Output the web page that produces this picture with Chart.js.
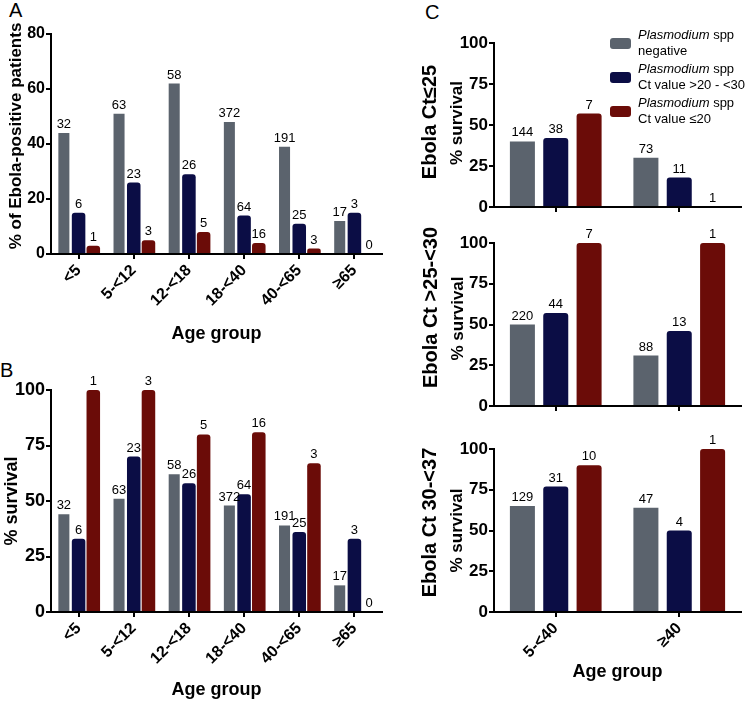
<!DOCTYPE html>
<html>
<head>
<meta charset="utf-8">
<script src="https://cdn.jsdelivr.net/npm/chart.js@4.4.1/dist/chart.umd.min.js"></script>
<style>
  body { margin: 0; background: #fff; width: 752px; height: 702px; position: relative; overflow: hidden;
         font-family: "Liberation Sans", Arial, sans-serif; color: #000; }
  .box { position: absolute; }
  .letter { position: absolute; font-size: 20px; line-height: 20px; }
  #legend { position: absolute; left: 610px; top: 27px; width: 150px; font-size: 13px; line-height: 16px; white-space: nowrap; }
  #legend .item { display: flex; align-items: center; height: 32px; margin-bottom: 2px; }
  #legend .sw { width: 21px; height: 11px; border-radius: 3px; margin-right: 7px; flex: none; }
</style>
</head>
<body>

<div class="letter" style="left:9px;top:0px">A</div>
<div class="letter" style="left:0px;top:360px">B</div>
<div class="letter" style="left:425px;top:2px">C</div>

<div class="box" style="left:0;top:0;width:392px;height:350px"><canvas id="chartA"></canvas></div>
<div class="box" style="left:0;top:345px;width:392px;height:357px"><canvas id="chartB"></canvas></div>
<div class="box" style="left:380px;top:0;width:372px;height:222px"><canvas id="chartC1"></canvas></div>
<div class="box" style="left:380px;top:222px;width:372px;height:208px"><canvas id="chartC2"></canvas></div>
<div class="box" style="left:380px;top:430px;width:372px;height:272px"><canvas id="chartC3"></canvas></div>
<div id="legend"></div>

<script>
// categorias
const ageGroups = ['<5', '5-<12', '12-<18', '18-<40', '40-<65', '≥65'];
const ageGroupsC = ['5-<40', '≥40'];
const seriesLabels = ['negative', 'Ct value >20 - <30', 'Ct value ≤20'];
const seriesColors = ['#5b636d', '#0b0d45', '#6b0c08'];

// numero de pacientes por grupo (rotulos em cima das barras)
const nNeg = [32, 63, 58, 372, 191, 17];
const nMid = [6, 23, 26, 64, 25, 3];
const nHigh = [1, 3, 5, 16, 3, 0];

// A - % dos pacientes Ebola-positivos
const pctNeg = [44, 51, 62, 48, 39, 12];
const pctMid = [15, 26, 29, 14, 11, 15];
const pctHigh = [3, 5, 8, 4, 2, 0];

// B - % sobrevivencia
const survNeg = [44, 51, 62, 48, 39, 12];
const survMid = [33, 70, 58, 53, 36, 33];
const survHigh = [100, 100, 80, 81, 67, 0];

// C - sobrevivencia por Ct do Ebola
const c1Neg = [40, 30], c1Mid = [42, 18], c1High = [57, 0];
const c1nNeg = [144, 73], c1nMid = [38, 11], c1nHigh = [7, 1];
const c2Neg = [50, 31], c2Mid = [57, 46], c2High = [100, 100];
const c2nNeg = [220, 88], c2nMid = [44, 13], c2nHigh = [7, 1];
const c3Neg = [65, 64], c3Mid = [77, 50], c3High = [90, 100];
const c3nNeg = [129, 47], c3nMid = [31, 4], c3nHigh = [10, 1];

Chart.defaults.font.family = '"Liberation Sans", Arial, sans-serif';
Chart.defaults.color = '#000';

// numeros em cima das barras
const countLabels = {
    id: 'countLabels',
    afterDatasetsDraw(chart) {
        const ctx = chart.ctx;
        ctx.save();
        ctx.font = '13px "Liberation Sans", Arial, sans-serif';
        ctx.fillStyle = '#000';
        ctx.textAlign = 'center';
        ctx.textBaseline = 'bottom';
        chart.data.datasets.forEach((ds, i) => {
            chart.getDatasetMeta(i).data.forEach((bar, j) => {
                ctx.fillText(String(ds.counts[j]), bar.x, bar.y - 2);
            });
        });
        ctx.restore();
    }
};

// titulos verticais do eixo y (tamanhos diferentes)
const sideTitles = {
    id: 'sideTitles',
    afterDraw(chart, args, opts) {
        const { ctx, chartArea } = chart;
        (opts.items || []).forEach(it => {
            ctx.save();
            ctx.translate(it.x, (chartArea.top + chartArea.bottom) / 2 + (it.dy || 0));
            ctx.rotate(-Math.PI / 2);
            ctx.font = 'bold ' + it.size + 'px "Liberation Sans", Arial, sans-serif';
            ctx.fillStyle = '#000';
            ctx.textAlign = 'center';
            ctx.textBaseline = 'middle';
            ctx.fillText(it.text, 0, 0);
            ctx.restore();
        });
    }
};

function makeChart(id, cfg) {
    const datasets = cfg.values.map((vals, i) => ({
        data: vals,
        counts: cfg.counts[i],
        backgroundColor: seriesColors[i],
        borderRadius: i === 0 ? 0 : 3,
        categoryPercentage: cfg.catPct,
        barPercentage: cfg.barPct[i]
    }));
    return new Chart(document.getElementById(id), {
        type: 'bar',
        data: { labels: cfg.labels, datasets: datasets },
        plugins: [countLabels, sideTitles],
        options: {
            responsive: true,
            maintainAspectRatio: false,
            animation: false,
            layout: { padding: cfg.padding },
            plugins: {
                legend: { display: false },
                tooltip: { enabled: false },
                sideTitles: { items: cfg.titles }
            },
            scales: {
                x: {
                    grid: { drawOnChartArea: false, offset: false, color: '#000', lineWidth: 2, tickLength: 5 },
                    border: { color: '#000', width: 2 },
                    ticks: {
                        display: cfg.showX, color: '#000', autoSkip: false,
                        maxRotation: 45, minRotation: 45, padding: 2,
                        font: { size: 16, weight: 'bold' }
                    },
                    title: {
                        display: cfg.showX, text: 'Age group', color: '#000',
                        font: { size: 18, weight: 'bold' },
                        padding: { top: 0, bottom: cfg.titlePad }
                    },
                    afterFit: s => { s.height = cfg.xHeight; }
                },
                y: {
                    min: 0,
                    max: cfg.yMax,
                    grid: { drawOnChartArea: false, color: '#000', lineWidth: 2, tickLength: 5 },
                    border: { color: '#000', width: 2 },
                    ticks: { stepSize: cfg.yStep, color: '#000', padding: 1, font: { size: cfg.tickSize, weight: 'bold' } },
                    afterFit: s => { s.width = cfg.yWidth; }
                }
            }
        }
    });
}

// Grafico A
makeChart('chartA', {
    labels: ageGroups,
    values: [pctNeg, pctMid, pctHigh],
    counts: [nNeg, nMid, nHigh],
    yMax: 80, yStep: 20, tickSize: 16,
    yWidth: 51, xHeight: 96, showX: true, titlePad: 5,
    padding: { top: 34, right: 10, left: 0, bottom: 0 },
    catPct: 0.8, barPct: [0.75, 0.92, 0.92],
    titles: [{ text: '% of Ebola-positive patients', x: 16, dy: -8, size: 17 }]
});

// Grafico B
makeChart('chartB', {
    labels: ageGroups,
    values: [survNeg, survMid, survHigh],
    counts: [nNeg, nMid, nHigh],
    yMax: 100, yStep: 25, tickSize: 18,
    yWidth: 51, xHeight: 90, showX: true, titlePad: 1,
    padding: { top: 45, right: 10, left: 0, bottom: 0 },
    catPct: 0.8, barPct: [0.75, 0.92, 0.92],
    titles: [{ text: '% survival', x: 12, dy: 0, size: 18 }]
});

// Graficos C
makeChart('chartC1', {
    labels: ageGroupsC,
    values: [c1Neg, c1Mid, c1High],
    counts: [c1nNeg, c1nMid, c1nHigh],
    yMax: 100, yStep: 25, tickSize: 17,
    yWidth: 114, xHeight: 15, showX: false, titlePad: 0,
    padding: { top: 43, right: 11, left: 0, bottom: 0 },
    catPct: 0.81, barPct: [0.75, 0.75, 0.75],
    titles: [{ text: 'Ebola Ct≤25', x: 50, dy: -3, size: 20 },
             { text: '% survival', x: 77, dy: -2, size: 17 }]
});

makeChart('chartC2', {
    labels: ageGroupsC,
    values: [c2Neg, c2Mid, c2High],
    counts: [c2nNeg, c2nMid, c2nHigh],
    yMax: 100, yStep: 25, tickSize: 17,
    yWidth: 114, xHeight: 24, showX: false, titlePad: 0,
    padding: { top: 21, right: 11, left: 0, bottom: 0 },
    catPct: 0.81, barPct: [0.75, 0.75, 0.75],
    titles: [{ text: 'Ebola Ct >25-<30', x: 51, dy: -17, size: 20 },
             { text: '% survival', x: 78, dy: -6, size: 17 }]
});

makeChart('chartC3', {
    labels: ageGroupsC,
    values: [c3Neg, c3Mid, c3High],
    counts: [c3nNeg, c3nMid, c3nHigh],
    yMax: 100, yStep: 25, tickSize: 17,
    yWidth: 114, xHeight: 90, showX: true, titlePad: 19,
    padding: { top: 19, right: 11, left: 0, bottom: 0 },
    catPct: 0.81, barPct: [0.75, 0.75, 0.75],
    titles: [{ text: 'Ebola Ct 30-<37', x: 50, dy: -8, size: 20 },
             { text: '% survival', x: 77, dy: 0, size: 17 }]
});

// legenda (Plasmodium em italico)
const legend = document.getElementById('legend');
seriesLabels.forEach((lab, i) => {
    const item = document.createElement('div');
    item.className = 'item';
    item.innerHTML = '<span class="sw" style="background:' + seriesColors[i] + '"></span>' +
        '<span><i>Plasmodium</i> spp<br>' + lab.replace(/</g, '&lt;') + '</span>';
    legend.appendChild(item);
});
</script>
</body>
</html>
